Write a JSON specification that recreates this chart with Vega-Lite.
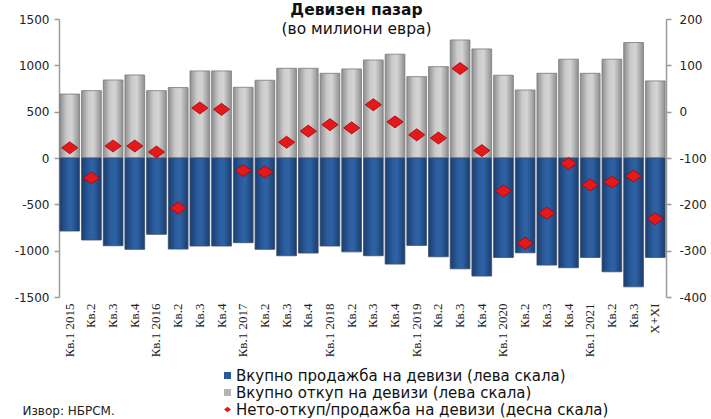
{
  "$schema": "https://vega.github.io/schema/vega-lite/v6.json",
  "width": 607,
  "height": 278,
  "autosize": {"type": "none"},
  "padding": {"left": 59, "top": 19, "right": 45, "bottom": 122},
  "background": "white",
  "title": {
    "text": "Девизен пазар",
    "subtitle": "(во милиони евра)",
    "anchor": "middle",
    "frame": "group",
    "dx": -6,
    "offset": -24,
    "font": "DejaVu Sans",
    "fontSize": 15.5,
    "fontWeight": "bold",
    "color": "#111111",
    "subtitleFont": "DejaVu Sans",
    "subtitleFontSize": 15.5,
    "subtitleColor": "#111111",
    "subtitlePadding": 3
  },
  "config": {
    "view": {"stroke": null},
    "axis": {"grid": false}
  },
  "data": {
    "values": [
      {"p": "Кв.1 2015", "purchase": 690, "sale": -788, "net": -78},
      {"p": "Кв.2 2015", "purchase": 727, "sale": -885, "net": -143},
      {"p": "Кв.3 2015", "purchase": 842, "sale": -947, "net": -74},
      {"p": "Кв.4 2015", "purchase": 896, "sale": -986, "net": -74},
      {"p": "Кв.1 2016", "purchase": 727, "sale": -824, "net": -87},
      {"p": "Кв.2 2016", "purchase": 760, "sale": -983, "net": -208},
      {"p": "Кв.3 2016", "purchase": 940, "sale": -950, "net": 8},
      {"p": "Кв.4 2016", "purchase": 940, "sale": -950, "net": 5},
      {"p": "Кв.1 2017", "purchase": 763, "sale": -914, "net": -127},
      {"p": "Кв.2 2017", "purchase": 839, "sale": -986, "net": -130},
      {"p": "Кв.3 2017", "purchase": 968, "sale": -1055, "net": -66},
      {"p": "Кв.4 2017", "purchase": 968, "sale": -1026, "net": -42},
      {"p": "Кв.1 2018", "purchase": 914, "sale": -950, "net": -28},
      {"p": "Кв.2 2018", "purchase": 961, "sale": -1013, "net": -35},
      {"p": "Кв.3 2018", "purchase": 1058, "sale": -1055, "net": 15},
      {"p": "Кв.4 2018", "purchase": 1120, "sale": -1145, "net": -22},
      {"p": "Кв.1 2019", "purchase": 878, "sale": -943, "net": -50},
      {"p": "Кв.2 2019", "purchase": 986, "sale": -1066, "net": -57},
      {"p": "Кв.3 2019", "purchase": 1274, "sale": -1196, "net": 93},
      {"p": "Кв.4 2019", "purchase": 1177, "sale": -1274, "net": -84},
      {"p": "Кв.1 2020", "purchase": 893, "sale": -1073, "net": -171},
      {"p": "Кв.2 2020", "purchase": 734, "sale": -1023, "net": -284},
      {"p": "Кв.3 2020", "purchase": 914, "sale": -1156, "net": -219},
      {"p": "Кв.4 2020", "purchase": 1066, "sale": -1184, "net": -112},
      {"p": "Кв.1 2021", "purchase": 914, "sale": -1073, "net": -158},
      {"p": "Кв.2 2021", "purchase": 1066, "sale": -1228, "net": -152},
      {"p": "Кв.3 2021", "purchase": 1246, "sale": -1390, "net": -139},
      {"p": "X+XI 2021", "purchase": 832, "sale": -1073, "net": -231}
    ]
  },
  "transform": [
    {"fold": ["purchase", "sale", "net"], "as": ["s", "v"]}
  ],
  "encoding": {
    "x": {
      "field": "p",
      "type": "nominal",
      "sort": null,
      "scale": {"paddingInner": 0.09, "paddingOuter": 0.04},
      "axis": {
        "title": "Извор: НБРСМ.",
        "titleX": -37,
        "titleY": 113,
        "titleAlign": "left",
        "titleBaseline": "middle",
        "titleFont": "DejaVu Sans",
        "titleFontSize": 12,
        "titleFontWeight": "normal",
        "titleColor": "#222222",
        "labelAngle": -90,
        "labelFont": "Liberation Sans Narrow",
        "labelFontSize": 13,
        "labelColor": "#222222",
        "labelPadding": 6,
        "domain": false,
        "ticks": false,
        "labelExpr": "indexof(datum.label, 'Кв.1') == 0 ? datum.label : split(datum.label, ' ')[0]"
      }
    }
  },
  "layer": [
    {
      "layer": [
        {
          "transform": [{"filter": "datum.s == 'purchase'"}],
          "mark": {
            "type": "bar",
            "stroke": "#7a7a7a",
            "strokeWidth": 0.8,
            "color": {
              "gradient": "linear",
              "x1": 0, "y1": 0, "x2": 1, "y2": 0,
              "stops": [
                {"offset": 0, "color": "#8e8e8e"},
                {"offset": 0.35, "color": "#cbcbcb"},
                {"offset": 0.6, "color": "#d4d4d4"},
                {"offset": 1, "color": "#8e8e8e"}
              ]
            }
          },
          "encoding": {
            "y": {
              "field": "v",
              "type": "quantitative",
              "scale": {"domain": [-1500, 1500], "nice": false, "zero": false},
              "axis": {
                "title": null,
                "values": [-1500, -1000, -500, 0, 500, 1000, 1500],
                "format": "d",
                "labelExpr": "replace(datum.label, '−', '-')",
                "labelFont": "DejaVu Sans",
                "labelFontSize": 12,
                "labelColor": "#222222",
                "domainColor": "#9a9a9a",
                "domainWidth": 1.5,
                "tickColor": "#9a9a9a",
                "tickWidth": 1.5,
                "tickSize": 5,
                "labelPadding": 5
              }
            }
          }
        },
        {
          "transform": [{"filter": "datum.s == 'sale'"}],
          "mark": {
            "type": "bar",
            "stroke": "#3d4f6a",
            "strokeWidth": 0.8,
            "color": {
              "gradient": "linear",
              "x1": 0, "y1": 0, "x2": 1, "y2": 0,
              "stops": [
                {"offset": 0, "color": "#1a3d6f"},
                {"offset": 0.4, "color": "#2c5e9f"},
                {"offset": 0.6, "color": "#2e62a4"},
                {"offset": 1, "color": "#1a3d6f"}
              ]
            }
          },
          "encoding": {
            "y": {
              "field": "v",
              "type": "quantitative",
              "scale": {"domain": [-1500, 1500], "nice": false, "zero": false}
            }
          }
        }
      ]
    },
    {
      "transform": [{"filter": "datum.s == 'net'"}],
      "mark": {
        "type": "point",
        "filled": true,
        "opacity": 1,
        "size": 260,
        "stroke": "#a80000",
        "strokeWidth": 0.8
      },
      "encoding": {
        "y": {
          "field": "v",
          "type": "quantitative",
          "scale": {"domain": [-400, 200], "nice": false},
          "axis": {
            "orient": "right",
            "title": null,
            "values": [-400, -300, -200, -100, 0, 100, 200],
            "format": "d",
            "labelExpr": "replace(datum.label, '−', '-')",
            "labelFont": "DejaVu Sans",
            "labelFontSize": 12,
            "labelColor": "#222222",
            "domainColor": "#9a9a9a",
            "domainWidth": 1.5,
            "tickColor": "#9a9a9a",
            "tickWidth": 1.5,
            "tickSize": 5,
            "labelPadding": 8
          }
        },
        "color": {
          "field": "s",
          "type": "nominal",
          "scale": {
            "domain": ["sale", "purchase", "net"],
            "range": ["#2a5a9c", "#b5b5b5", "#e3191c"]
          },
          "legend": {
            "orient": "none",
            "legendX": 161,
            "legendY": 349,
            "direction": "vertical",
            "title": null,
            "labelFont": "DejaVu Sans",
            "labelFontSize": 15,
            "labelColor": "#111111",
            "labelLimit": 500,
            "symbolSize": 50,
            "symbolStrokeWidth": 0,
            "rowPadding": 1,
            "labelOffset": 1,
            "labelExpr": "datum.label == 'sale' ? 'Вкупно продажба на девизи (лева скала)' : datum.label == 'purchase' ? 'Вкупно откуп на девизи (лева скала)' : 'Нето-откуп/продажба на девизи (десна скала)'"
          }
        },
        "shape": {
          "field": "s",
          "type": "nominal",
          "scale": {
            "domain": ["sale", "purchase", "net"],
            "range": ["square", "square", "M-1,0L0,-0.75L1,0L0,0.75Z"]
          },
          "legend": null
        }
      }
    }
  ],
  "resolve": {"scale": {"y": "independent"}}
}
